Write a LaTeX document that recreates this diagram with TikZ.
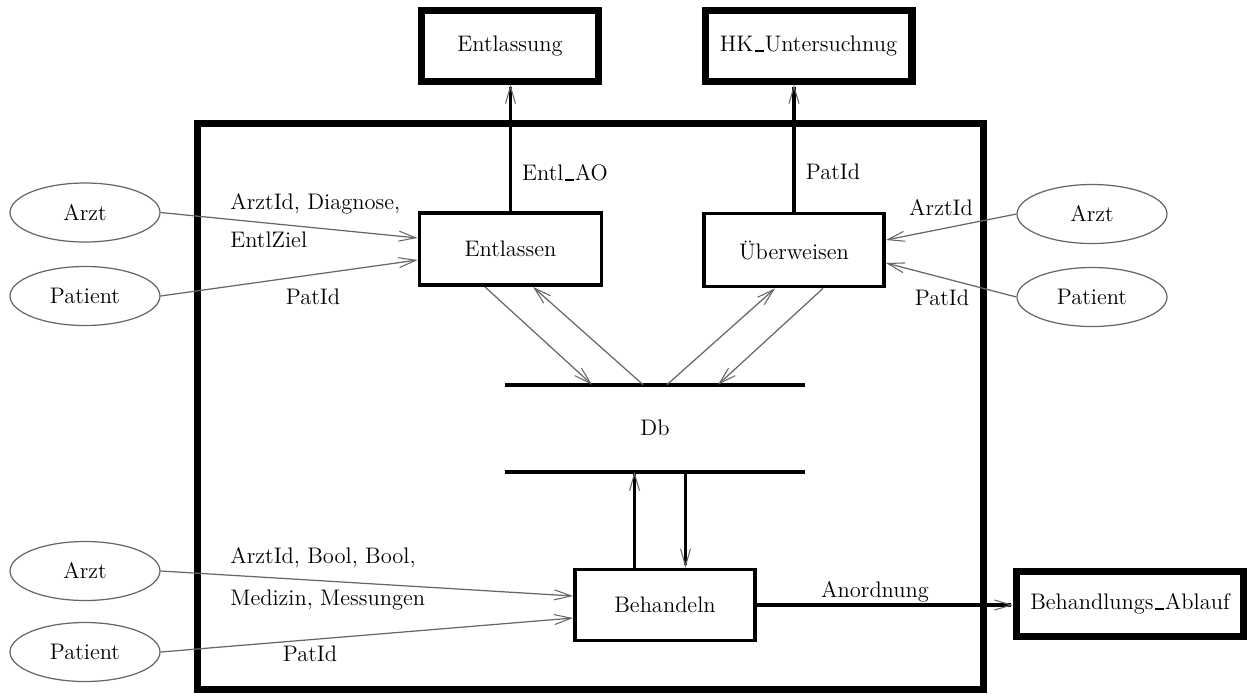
\documentclass[tikz,border=0pt]{standalone}
\usepackage{fontspec}
\usetikzlibrary{arrows.meta,calc}
\usetikzlibrary{shapes.geometric}
\newcommand\usc{\leavevmode\kern.06em\vbox{\hrule width.42em height 0.9pt}\kern.02em}
\tikzset{
  x=0.02cm, y=-0.02cm,
  every node/.style={font=\fontsize{12.8}{15}\selectfont, inner sep=0pt},
  extbox/.style={draw, line width=4pt, rectangle},
  procbox/.style={draw, line width=2.2pt, rectangle},
  sysframe/.style={draw, line width=4pt, rectangle},
  actor/.style={draw=black!60, line width=0.7pt, ellipse, minimum width=3cm, minimum height=1.18cm},
  tip/.style={-{Straight Barb[length=0.34cm, width=0.2cm, line width=0.6pt, color=black!60]}},
  flow/.style={tip, draw=black!60, line width=0.7pt},
  thickflow/.style={tip, draw=black, line width=1.8pt},
  dbline/.style={draw, line width=2.2pt}
}
\begin{document}
\begin{tikzpicture}
\useasboundingbox (0,0) rectangle (1250,698);
% system frame
\node[sysframe, minimum width=15.74cm, minimum height=11.34cm] (sys) at (590.5,406.5) {};
% external boxes
\node[extbox, minimum width=3.54cm, minimum height=1.41cm] (entl) at (510,46) {Entlassung};
\node[extbox, minimum width=4.14cm, minimum height=1.41cm] (hk) at (808.5,46) {HK\usc Untersuchnug};
\node[extbox, minimum width=4.53cm, minimum height=1.31cm] (ba) at (1130,604) {Behandlungs\usc Ablauf};
% processes
\node[procbox, minimum width=3.64cm, minimum height=1.44cm] (ent) at (510.5,249) {Entlassen};
\node[procbox, minimum width=3.6cm, minimum height=1.46cm] (ueb) at (794,250) {Überweisen};
\node[procbox, minimum width=3.6cm, minimum height=1.42cm] (beh) at (665,605) {Behandeln};
% data store
\node[minimum width=6cm, minimum height=1.73cm] (db) at (655,428.25) {Db};
\draw[dbline] (db.north west) -- (db.north east);
\draw[dbline] (db.south west) -- (db.south east);
% actors
\node[actor] (arzt1) at (85,212.5) {Arzt};
\node[actor] (pat1) at (85,296) {Patient};
\node[actor] (arzt2) at (1092,214) {Arzt};
\node[actor] (pat2) at (1092,297) {Patient};
\node[actor] (arzt3) at (85,571) {Arzt};
\node[actor] (pat3) at (85,652) {Patient};
% actor flows
\draw[flow] (arzt1.east) -- ([yshift=0.22cm]ent.west);
\draw[flow] (pat1.east) -- ([yshift=-0.22cm]ent.west);
\draw[flow] (arzt2.west) -- ([yshift=0.2cm]ueb.east);
\draw[flow] (pat2.west) -- ([yshift=-0.26cm]ueb.east);
\draw[flow] (arzt3.east) -- ([yshift=0.18cm]beh.west);
\draw[flow] (pat3.east) -- ([yshift=-0.26cm]beh.west);
% db flows
\draw[flow] ([xshift=-0.51cm]ent.south) -- ([xshift=-1.26cm]db.north);
\draw[flow] ([xshift=-0.24cm]db.north) -- ([xshift=0.45cm]ent.south);
\draw[flow] ([xshift=0.24cm]db.north) -- ([xshift=-0.38cm]ueb.south);
\draw[flow] ([xshift=0.58cm]ueb.south) -- ([xshift=1.26cm]db.north);
\coordinate (bu) at ([xshift=-0.61cm]beh.north);
\coordinate (bd) at ([xshift=0.41cm]beh.north);
\draw[thickflow] (bu) -- (bu |- db.south);
\draw[thickflow] (bd |- db.south) -- (bd);
% outputs
\draw[thickflow] (ent.north) -- (ent.north |- entl.south);
\draw[thickflow] (ueb.north) -- (ueb.north |- hk.south);
\draw[thickflow] (beh.east) -- (beh.east -| ba.west);
% labels
\node[anchor=west] (l1) at (230,204) {ArztId, Diagnose,};
\node[anchor=west] (l2) at (230,240) {EntlZiel};
\node (l3) at (313,297) {PatId};
\node (l4) at (565,173) {Entl\usc AO};
\node (l5) at (833,172) {PatId};
\node (l6) at (941,208) {ArztId};
\node (l7) at (942,298) {PatId};
\node[anchor=west] (l8) at (230,558) {ArztId, Bool, Bool,};
\node[anchor=west] (l9) at (230,600) {Medizin, Messungen};
\node (l10) at (310,654) {PatId};
\node (l11) at (875,592) {Anordnung};
\end{tikzpicture}
\end{document}
